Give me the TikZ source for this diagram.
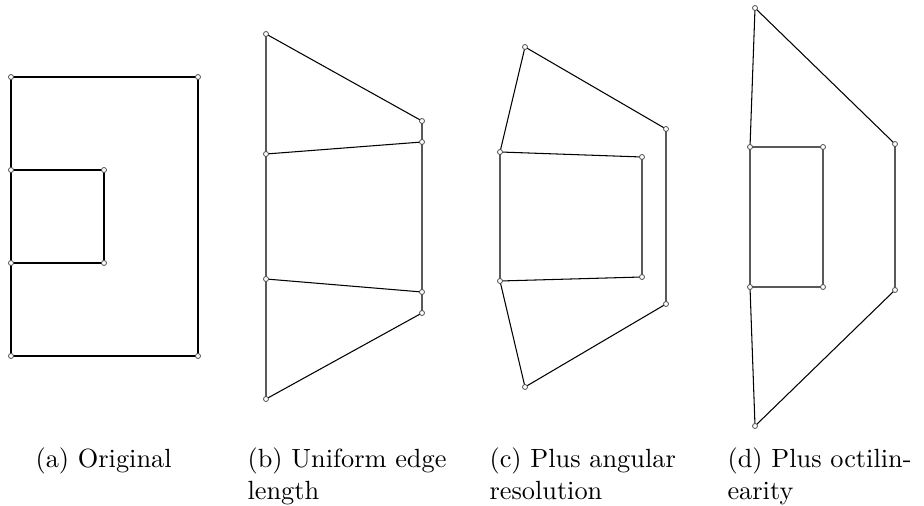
\documentclass[tikz,border=0pt]{standalone}
\usepackage{tikz}
\usetikzlibrary{positioning}

\tikzset{
  vtx/.style={circle, draw=black!70, fill=white, line width=0.3pt, inner sep=0pt, minimum size=1.9pt},
  edge/.style={line width=0.4pt},
  subcap/.style={anchor=base west, inner sep=0pt, align=left, font=\fontsize{10}{12.2}\selectfont}
}

\begin{document}
\begin{tikzpicture}[x=0.38pt, y=-0.38pt]
  \useasboundingbox (0,0) rectangle (924,506);
  \path (11,77) coordinate (a1) (198,77) coordinate (a2) (198,356) coordinate (a3) (11,356) coordinate (a4)
        (11,263) coordinate (a5) (11,170) coordinate (a6) (104,170) coordinate (a7) (104,263) coordinate (a8);
  \path (266,34) coordinate (b1) (422,121) coordinate (b2) (422,313) coordinate (b3) (266,399) coordinate (b4)
        (266,279) coordinate (b5) (266,154) coordinate (b6) (422,142) coordinate (b7) (422,292) coordinate (b8);
  \path (525,47) coordinate (c1) (666,129) coordinate (c2) (666,304) coordinate (c3) (525,387) coordinate (c4)
        (500,281) coordinate (c5) (500,152) coordinate (c6) (642,157) coordinate (c7) (642,277) coordinate (c8);
  \path (755,8) coordinate (d1) (895,144) coordinate (d2) (895,290) coordinate (d3) (755,426) coordinate (d4)
        (750,287) coordinate (d5) (750,147) coordinate (d6) (823,147) coordinate (d7) (823,287) coordinate (d8);
  \foreach \p in {a,b,c,d}{
    \draw[edge] (\p1) -- (\p2) -- (\p3) -- (\p4) -- (\p5) -- (\p6) -- cycle
                (\p6) -- (\p7) -- (\p8) -- (\p5);
    \foreach \i in {1,...,8}
      \node[vtx] (v\p\i) at (\p\i) {};
  }
  \node[subcap] (capa) at (35,467) {(a) Original};
  \node[subcap, text width=73pt] (capb) at (247,467) {\makebox[\linewidth][s]{(b) Uniform edge}\\length};
  \node[subcap, text width=72.2pt] (capc) at (489,467) {\makebox[\linewidth][s]{(c) Plus angular}\\resolution};
  \node[subcap, text width=74pt] (capd) at (727,467) {\makebox[\linewidth][s]{(d) Plus octilin-}\\earity};
\end{tikzpicture}
\end{document}
